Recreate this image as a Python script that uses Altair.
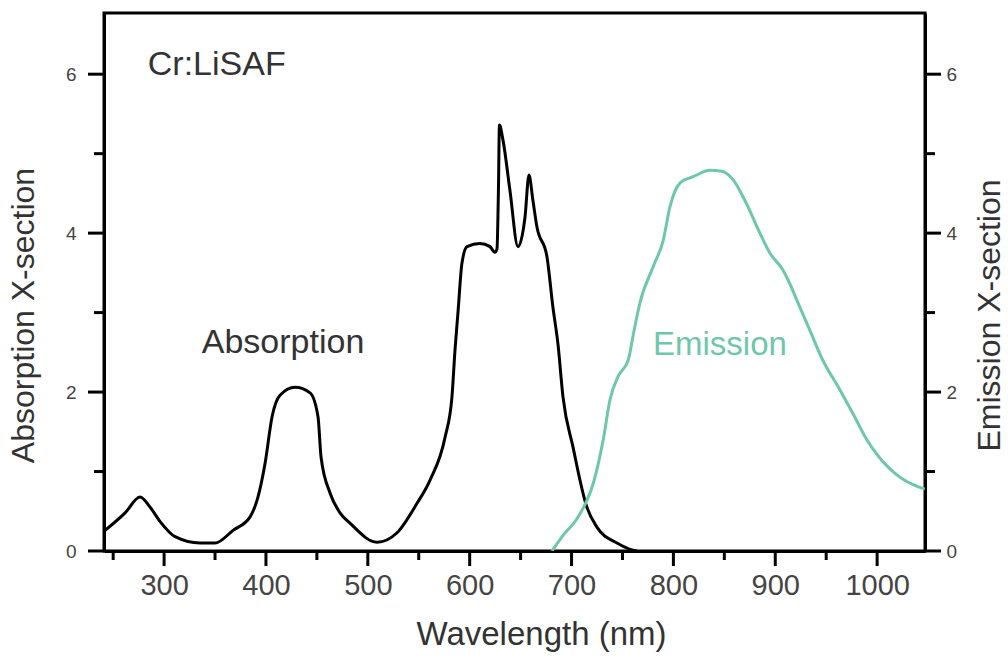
import altair as alt
import pandas as pd

# Absorption cross-section (black curve)
abs_nm = [241.1, 261.7, 276.4, 286.3, 296.1, 310.8, 335.3, 350.0, 367.7, 384.4,
          392.2, 399.1, 406.0, 413.8, 428.6, 443.3, 451.1, 454.1, 462.9, 472.7,
          482.5, 509.0, 528.7, 548.3, 561.0, 575.8, 582.6, 585.6, 588.5, 592.4,
          597.4, 610.1, 619.9, 624.8, 626.8, 628.3, 629.2, 632.7, 639.5, 647.4,
          654.3, 658.2, 662.1, 666.0, 675.9, 681.7, 686.7, 691.6, 701.4, 715.1,
          724.9, 744.6, 760.3, 764.0]
abs_val = [0.25, 0.48, 0.68, 0.55, 0.37, 0.18, 0.10, 0.10, 0.26, 0.43,
           0.68, 1.10, 1.69, 1.96, 2.06, 1.99, 1.69, 1.18, 0.73, 0.48,
           0.35, 0.11, 0.23, 0.60, 0.89, 1.43, 1.94, 2.53, 3.00, 3.62,
           3.83, 3.87, 3.83, 3.76, 3.80, 4.60, 5.36, 5.17, 4.54, 3.83,
           4.20, 4.73, 4.41, 4.08, 3.70, 3.07, 2.60, 1.94, 1.31, 0.55,
           0.30, 0.10, 0.01, 0.00]

# Emission cross-section (teal curve)
em_nm = [680.8, 691.9, 705.0, 713.0, 721.3, 731.1, 737.7, 745.8, 755.6, 761.0,
         767.1, 780.2, 790.0, 796.6, 806.4, 819.4, 835.8, 847.3, 858.7, 871.8,
         884.9, 894.7, 907.8, 912.6, 924.1, 933.9, 946.7, 963.4, 976.2, 989.9,
         1002.6, 1022.3, 1039.9, 1046.8]
em_val = [0.00, 0.20, 0.40, 0.58, 0.85, 1.40, 1.90, 2.20, 2.40, 2.75,
          3.12, 3.58, 3.91, 4.33, 4.63, 4.71, 4.79, 4.78, 4.67, 4.37,
          4.00, 3.75, 3.53, 3.41, 3.07, 2.78, 2.40, 2.03, 1.73, 1.40,
          1.17, 0.93, 0.81, 0.78]

# Annotations
ann_text = ["Cr:LiSAF", "Absorption"]
ann_nm = [284.0, 337.0]
ann_val = [6.11, 2.62]
em_label = ["Emission"]
em_label_nm = [780.0]
em_label_val = [2.59]

# Ticks
x_major = [300, 400, 500, 600, 700, 800, 900, 1000]
x_minor = [250, 350, 450, 550, 650, 750, 850, 950]
y_major = [0, 2, 4, 6]
y_minor = [1, 3, 5]
x_domain = [241, 1047]
y_domain = [0, 6.77]

TEAL = "#6fc7a9"
FONT = "Liberation Sans"
W, H = 821, 538

abs_df = pd.DataFrame({"nm": abs_nm, "v": abs_val})
em_df = pd.DataFrame({"nm": em_nm, "v": em_val})
ann_df = pd.DataFrame({"nm": ann_nm, "v": ann_val, "t": ann_text})
eml_df = pd.DataFrame({"nm": em_label_nm, "v": em_label_val, "t": em_label})
xmaj_df = pd.DataFrame({"nm": x_major})
xmin_df = pd.DataFrame({"nm": x_minor})
ymaj_df = pd.DataFrame({"v": y_major})
ymin_df = pd.DataFrame({"v": y_minor})

xs = alt.Scale(domain=x_domain, nice=False, zero=False)
ys = alt.Scale(domain=y_domain, nice=False, zero=False)

x_main = alt.X("nm:Q", scale=xs, axis=alt.Axis(
    orient="bottom", values=x_major, format="d", ticks=False, grid=False,
    domainWidth=3, domainColor="black",
    labelFontSize=29, labelColor="#444", labelPadding=20, labelFont=FONT,
    title="Wavelength (nm)", titleFontSize=33, titleFontWeight="normal",
    titleColor="#333", titleFont=FONT, titlePadding=18, titleX=437,
))


def y_major_axis(orient, title, pad, tpad):
    return alt.Axis(
        orient=orient, values=y_major, format="d", ticks=False, grid=False,
        domainWidth=3, domainColor="black",
        labelFontSize=19, labelColor="#444", labelPadding=pad, labelFont=FONT,
        title=title, titleFontSize=32, titleFontWeight="normal",
        titleColor="#333", titleFont=FONT, titlePadding=tpad,
        titleY=302, titleAngle=270,
    )


def xtick(df, length):
    return alt.Chart(df).mark_rule(color="black", strokeWidth=3).encode(
        x=alt.X("nm:Q", scale=xs),
        y=alt.value(H), y2=alt.value(H + length))


def ytick(df, x0, x1):
    return alt.Chart(df).mark_rule(color="black", strokeWidth=3).encode(
        y=alt.Y("v:Q", scale=ys),
        x=alt.value(x0), x2=alt.value(x1))


abs_line = alt.Chart(abs_df).mark_line(
    color="black", strokeWidth=3, interpolate="monotone", clip=True
).encode(x=x_main, y=alt.Y("v:Q", scale=ys,
                           axis=y_major_axis("left", "Absorption X-section", 28, 25)))

ann = alt.Chart(ann_df).mark_text(
    align="left", baseline="middle", fontSize=34, font=FONT, color="#333"
).encode(x=alt.X("nm:Q", scale=xs), y=alt.Y("v:Q", scale=ys), text="t:N")

eml = alt.Chart(eml_df).mark_text(
    align="left", baseline="middle", fontSize=33, font=FONT, color=TEAL
).encode(x=alt.X("nm:Q", scale=xs), y=alt.Y("v:Q", scale=ys), text="t:N")

left = alt.layer(
    abs_line, ann, eml,
    xtick(xmaj_df, 15), xtick(xmin_df, 9),
    ytick(ymaj_df, 0, -16), ytick(ymin_df, 0, -10),
)

em_line = alt.Chart(em_df).mark_line(
    color=TEAL, strokeWidth=3, interpolate="monotone", clip=True
).encode(x=x_main,
         y=alt.Y("v:Q", scale=ys,
                 axis=y_major_axis("right", "Emission X-section", 21, 50)))

right = alt.layer(em_line, ytick(ymaj_df, W, W + 16), ytick(ymin_df, W, W + 10))

chart = alt.layer(left, right).resolve_scale(y="independent").properties(
    width=W, height=H,
    autosize=alt.AutoSizeParams(type="none"),
    padding={"left": 104, "top": 13, "right": 83, "bottom": 109},
    background="white",
).configure_view(stroke="black", strokeWidth=3)

chart.save("out.html", embed_options={"renderer": "svg", "actions": False})
